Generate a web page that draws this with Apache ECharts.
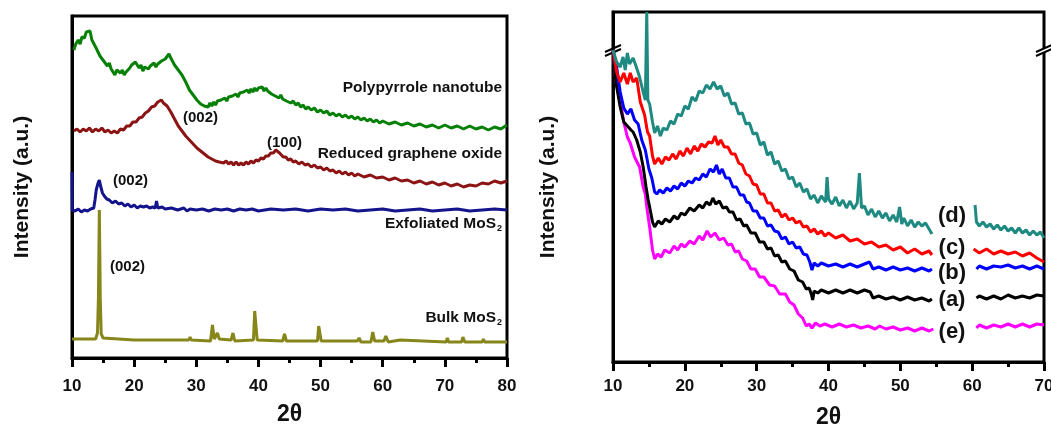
<!DOCTYPE html>
<html>
<head>
<meta charset="utf-8">
<script src="https://cdn.jsdelivr.net/npm/echarts@6/dist/echarts.min.js"></script>
<style>
  html, body { margin: 0; background: #fff; }
  #chart { width: 1051px; height: 426px; }
</style>
</head>
<body>
<div id="chart"></div>
<script>
// left panel: [2theta, intensity a.u.]
const ppyNanotube = [[10.3,308],[10.6,314],[11,318],[11.3,314],[11.6,321],[12,320],[12.3,326],[12.6,324],[12.9,327],[13.2,318],[13.5,316],[13.8,311],[14.1,313],[14.5,302],[14.8,304],[15.1,297],[15.4,299],[15.7,292],[16,295],[16.3,289],[16.6,291],[16.9,283],[17.2,288],[17.5,290],[17.8,285],[18.1,288],[18.4,283],[18.7,286],[19,284],[19.3,290],[19.6,293],[19.9,291],[20.2,296],[20.5,294],[20.8,290],[21.1,293],[21.4,287],[21.7,291],[22,293],[22.3,289],[22.6,292],[22.9,290],[23.2,295],[23.5,291],[23.8,294],[24.1,292],[24.4,297],[24.7,295],[25,299],[25.3,298],[25.6,304],[25.9,300],[26.2,298],[26.5,293],[26.8,294],[27.1,288],[27.4,289],[27.7,283],[28,281],[28.3,276],[28.6,274],[28.9,268],[29.2,267],[29.5,263],[29.8,262],[30.1,258],[30.4,259],[30.7,254],[31,256],[31.3,252],[31.6,254],[31.9,251],[32.2,255],[32.5,252],[32.8,256],[33.1,253],[33.4,257],[33.7,255],[34,258],[34.3,256],[34.6,260],[34.9,257],[35.2,261],[35.5,259],[35.8,262],[36.1,260],[36.4,264],[36.7,261],[37,265],[37.3,263],[37.6,266],[37.9,264],[38.2,268],[38.5,265],[38.8,269],[39.1,266],[39.4,270],[39.7,267],[40,270],[40.3,268],[40.6,271],[40.9,267],[41.2,270],[41.5,267],[41.8,268],[42.1,264],[42.4,266],[42.7,262],[43,264],[43.3,260],[43.6,263],[43.9,259],[44.2,261],[44.5,257],[44.8,259],[45.2,255],[45.6,257],[46,253],[46.4,255],[46.8,251],[47.2,253],[47.6,249],[48,251],[48.5,248],[49,250],[49.5,246],[50,248],[50.5,245],[51,247],[51.5,243],[52,245],[52.5,242],[53,244],[53.5,241],[54,243],[54.5,240],[55,242],[55.5,239],[56,241],[56.5,238],[57,240],[57.5,237],[58,239],[58.5,236],[59,238],[59.5,235],[60,237],[61,234],[62,236],[63,233],[64,235],[65,232],[66,234],[67,231],[68,233],[69,230],[70,233],[71,230],[72,232],[73,229],[74,232],[75,229],[76,231],[77,228],[78,231],[79,229],[80,233]];

const reducedGO = [[10.3,227],[10.8,229],[11.3,226],[11.8,229],[12.3,227],[12.8,230],[13.3,226],[13.8,229],[14.3,227],[14.8,230],[15.3,226],[15.8,228],[16.3,225],[16.8,227],[17.3,225],[17.8,229],[18.3,228],[18.8,232],[19.3,232],[19.8,236],[20.3,236],[20.8,240],[21.3,241],[21.8,245],[22.3,247],[22.8,251],[23.3,252],[23.8,256],[24.1,255],[24.4,258],[24.7,255],[25,256],[25.3,252],[25.6,251],[25.9,246],[26.2,244],[26.5,239],[26.8,237],[27.1,232],[27.4,231],[27.7,227],[28,226],[28.3,222],[28.6,222],[28.9,218],[29.2,218],[29.5,214],[29.8,214],[30.1,210],[30.4,211],[30.7,207],[31,208],[31.3,204],[31.6,205],[31.9,201],[32.2,202],[32.5,199],[32.8,200],[33.1,197],[33.4,199],[33.7,196],[34,198],[34.4,195],[34.8,197],[35.2,194],[35.6,196],[36,193],[36.4,196],[36.8,193],[37.2,195],[37.6,193],[38,196],[38.4,194],[38.8,197],[39.2,195],[39.6,198],[40,197],[40.4,200],[40.8,199],[41.2,202],[41.6,202],[42,205],[42.4,205],[42.8,208],[43.1,207],[43.4,205],[43.7,204],[44,201],[44.4,201],[44.8,198],[45.2,199],[45.6,196],[46,197],[46.5,194],[47,196],[47.5,193],[48,194],[48.5,191],[49,193],[49.5,190],[50,191],[50.5,188],[51,190],[51.5,187],[52,188],[52.5,185],[53,187],[53.5,184],[54,186],[54.5,183],[55,185],[55.5,182],[56,184],[57,181],[58,183],[59,180],[60,181],[61,178],[62,180],[63,177],[64,178],[65,175],[66,177],[67,174],[68,176],[69,173],[70,175],[71,172],[72,174],[73,171],[74,173],[75,172],[76,175],[77,174],[78,177],[79,175],[80,177]];

const exfoliatedMoS2 = [[10,186],[10.05,148],[10.5,147],[11,149],[11.5,146],[12,148],[12.5,147],[13,149],[13.5,150],[13.7,158],[13.9,168],[14.2,175],[14.4,178],[14.6,172],[14.9,165],[15.2,162],[15.6,159],[16,158],[16.5,155],[17,157],[17.5,154],[18,155],[18.5,152],[19,154],[19.5,151],[20,153],[20.5,150],[21,152],[21.5,151],[22,152],[22.5,150],[23,151],[23.4,150],[23.6,157],[23.8,150],[24.5,151],[25,149],[26,150],[27,148],[28,150],[28.5,147],[29,149],[30,148],[31,149],[32,147],[33,149],[34,148],[35,149],[36,147],[37,149],[38,148],[39,149],[40,147],[42,149],[44,148],[46,149],[48,147],[50,149],[52,148],[54,149],[56,147],[58,148],[60,149],[62,147],[64,148],[66,149],[68,147],[70,148],[72,149],[74,147],[76,148],[78,149],[80,148]];

const bulkMoS2 = [[10,19],[13.8,19],[14.1,25],[14.25,60],[14.4,148],[14.55,60],[14.7,24],[15,20],[20,18],[25,18],[28.8,18],[29,21],[29.2,18],[32.3,17],[32.6,33],[32.9,19],[33.4,25],[33.7,19],[35.6,18],[35.9,25],[36.2,17],[39.2,18],[39.4,47],[39.6,48],[39.8,18],[43.9,17],[44.2,24],[44.5,17],[49.5,17],[49.7,32],[49.9,30],[50.1,17],[55.9,17],[56.2,20],[56.5,16],[58.1,16],[58.4,26],[58.7,17],[60.2,17],[60.5,22],[60.9,16],[62.8,18],[63,16],[70.2,16],[70.4,20],[70.6,16],[72.7,16],[72.9,21],[73.2,16],[76,16],[76.2,19],[76.4,16],[80,16]];

// right panel: [2theta, intensity a.u.], gap between 54.5 and 60.5
const sampleD = [[10,312],[10.5,300],[11,295],[11.4,305],[11.7,292],[12,309],[12.3,298],[12.8,304],[13.2,296],[13.7,285],[14.2,270],[14.5,262],[14.7,350],[14.85,262],[15.1,258],[15.5,240],[15.8,229],[16.2,236],[16.6,226],[17,234],[17.5,232],[18,241],[18.5,238],[19,248],[19.5,246],[20,256],[20.5,253],[21,265],[21.5,261],[22,271],[22.5,269],[23,277],[23.5,273],[24,280],[24.5,273],[25,276],[25.5,266],[26,269],[26.5,258],[27,259],[27.5,248],[28,249],[28.5,238],[29,239],[29.5,228],[30,229],[30.5,217],[31,220],[31.5,207],[32,210],[32.5,198],[33,201],[33.5,191],[34,193],[34.5,183],[35,185],[35.5,175],[36,179],[36.5,170],[37,173],[37.5,163],[38,167],[38.5,159],[39,166],[39.6,160],[39.8,185],[40,163],[40.5,158],[41,165],[41.5,156],[42,162],[42.5,154],[43,161],[43.5,153],[44,159],[44.3,189],[44.6,154],[45,156],[45.5,147],[46,153],[46.5,145],[47,151],[47.5,144],[48,149],[48.5,141],[49,147],[49.5,140],[49.9,155],[50.2,138],[50.5,144],[51,136],[51.5,142],[52,135],[52.5,140],[53,136],[53.5,139],[54,133],[54.4,128],[57,'-'],[60.4,157],[60.6,140],[61,136],[61.5,140],[62,135],[62.5,138],[63,133],[63.5,137],[64,132],[64.5,136],[65,131],[65.5,134],[66,129],[66.5,134],[67,129],[67.5,132],[68,127],[68.5,131],[69,127],[69.5,130],[70,124]];

const sampleC = [[10,312],[10.5,290],[11,280],[11.5,289],[12,278],[12.4,289],[12.8,280],[13.3,284],[13.8,260],[14.4,247],[14.8,230],[15.1,226],[15.5,206],[15.8,198],[16.3,204],[16.8,198],[17.3,205],[17.8,202],[18.3,208],[18.8,203],[19.3,211],[19.8,206],[20.3,214],[20.8,208],[21.3,216],[21.8,211],[22.3,218],[22.8,215],[23.3,220],[23.8,219],[24.2,226],[24.6,217],[25,222],[25.5,215],[26,215],[26.5,208],[27,208],[27.5,199],[28,197],[28.5,188],[29,186],[29.5,178],[30,177],[30.5,168],[31,168],[31.5,159],[32,159],[32.5,151],[33,152],[33.5,145],[34,148],[34.5,142],[35,144],[35.5,139],[36,141],[36.5,135],[37,136],[37.5,130],[38,133],[38.5,128],[39,131],[39.5,126],[40,129],[41,124],[42,127],[43,121],[44,123],[45,118],[46,120],[47,115],[48,117],[49,112],[50,115],[51,109],[52,113],[53,108],[54,111],[54.4,107],[57,'-'],[60.2,113],[61,109],[62,113],[63,108],[64,111],[65,108],[66,110],[67,106],[68,109],[69,104],[70,100]];

const sampleB = [[10,312],[10.5,295],[11,270],[11.5,254],[12,248],[12.5,253],[13,242],[13.5,238],[14,222],[14.5,212],[15,193],[15.4,184],[15.8,170],[16.1,168],[16.5,172],[17,169],[17.5,174],[18,171],[18.5,176],[19,173],[19.5,179],[20,176],[20.5,181],[21,179],[21.5,184],[22,182],[22.5,188],[23,185],[23.5,193],[24,190],[24.4,197],[24.8,188],[25.2,193],[25.7,184],[26.2,184],[26.7,175],[27.2,175],[27.7,167],[28.2,167],[28.6,160],[29,159],[29.5,151],[30,151],[30.5,144],[31,144],[31.5,136],[32,137],[32.5,131],[33,130],[33.5,123],[34,125],[34.5,118],[35,120],[35.5,114],[36,115],[36.5,108],[37,107],[37.4,100],[37.7,92],[38,99],[38.5,96],[39,99],[40,96],[41,98],[42,95],[43,98],[44,95],[45,98],[45.7,100],[46.2,93],[47,95],[48,92],[49,95],[50,92],[51,94],[52,91],[53,94],[54,91],[54.4,93],[57,'-'],[60.6,93],[61,96],[62,93],[63,96],[64,95],[65,97],[66,94],[67,96],[68,93],[69,96],[70,93]];

const sampleA = [[10,312],[10.4,280],[11,255],[11.5,240],[12,236],[12.5,232],[12.8,230],[13.3,222],[13.8,210],[14.2,195],[14.6,175],[14.9,162],[15.1,155],[15.5,140],[15.8,135],[16.3,141],[16.8,138],[17.3,143],[17.9,140],[18.5,146],[19,143],[19.5,149],[20,147],[20.7,154],[21.3,151],[22,157],[22.5,154],[23,160],[23.5,157],[23.9,164],[24.3,158],[24.8,161],[25.3,154],[25.8,155],[26.2,150],[26.7,150],[27.2,142],[27.7,143],[28.2,136],[28.6,137],[29.2,129],[29.8,129],[30.4,120],[31,120],[31.5,113],[32,114],[32.5,106],[33,107],[33.5,100],[34,101],[34.6,93],[35.2,91],[35.8,82],[36.4,80],[36.9,73],[37.3,74],[37.6,68],[37.8,62],[38,71],[38.5,69],[39,72],[40,69],[41,72],[42,69],[43,72],[44,69],[45,72],[45.8,70],[46.2,64],[47,66],[48,63],[49,65],[50,62],[51,65],[52,62],[53,64],[54,61],[54.4,63],[57,'-'],[60.6,64],[61,66],[62,63],[63,66],[64,63],[65,67],[66,64],[67,66],[68,64],[69,67],[70,66]];

const sampleE = [[10,312],[10.4,280],[11,262],[11.5,240],[12,225],[12.4,219],[13,205],[13.7,195],[14.2,175],[14.5,168],[14.7,155],[15.1,135],[15.5,112],[15.8,103],[16.2,108],[16.7,105],[17.2,112],[17.9,109],[18.5,116],[19,112],[19.5,118],[20,115],[20.7,121],[21.3,118],[22,126],[22.5,122],[23.1,131],[23.6,125],[24.2,129],[24.8,122],[25.4,124],[26,117],[26.5,118],[27,110],[27.5,111],[28,103],[28.6,101],[29.2,93],[29.8,93],[30.4,85],[31,85],[31.8,77],[32.5,76],[33.2,68],[34,68],[34.6,60],[35.2,57],[35.8,48],[36.4,44],[36.9,36],[37.3,38],[37.7,34],[38.2,39],[38.8,36],[39.5,38],[40.5,35],[41.5,38],[42.5,35],[43.5,37],[44.5,34],[45.5,36],[46.5,33],[47.1,36],[48,33],[49,35],[50,32],[51,34],[52,31],[53,34],[54,31],[54.6,33],[57,'-'],[60.6,34],[61,37],[62,34],[63,37],[64,35],[65,38],[66,35],[67,38],[68,35],[69,38],[70,37]];

const leftTicks = { min: 10, max: 80, interval: 10 };
const rightTicks = { min: 10, max: 70, interval: 10 };

const FONT = '"Liberation Sans", Arial, sans-serif';

function xAxisFor(gridIndex, ticks, labelMargin, nameGap) {
  return {
    type: 'value',
    gridIndex: gridIndex,
    min: ticks.min,
    max: ticks.max,
    interval: ticks.interval,
    name: '2θ',
    nameLocation: 'middle',
    nameGap: nameGap,
    nameTextStyle: { fontFamily: FONT, fontWeight: 'bold', fontSize: 23, color: '#111' },
    axisLine: { show: true, lineStyle: { color: '#000', width: 3 } },
    axisTick: { show: true, length: 9, lineStyle: { color: '#000', width: 3 } },
    minorTick: { show: true, splitNumber: 2, length: 5, lineStyle: { color: '#000', width: 3 } },
    splitLine: { show: false },
    axisLabel: { margin: labelMargin, fontFamily: FONT, fontWeight: 'bold', fontSize: 17, color: '#111' },
  };
}

function yAxisFor(gridIndex, max, nameGap) {
  return {
    type: 'value',
    gridIndex: gridIndex,
    min: 0,
    max: max,
    name: 'Intensity (a.u.)',
    nameLocation: 'middle',
    nameGap: nameGap,
    nameTextStyle: { fontFamily: FONT, fontWeight: 'bold', fontSize: 21, color: '#111' },
    axisLine: { show: true, lineStyle: { color: '#000', width: 3 } },
    axisTick: { show: false },
    axisLabel: { show: false },
    splitLine: { show: false },
  };
}

function line(name, data, color, xi) {
  return {
    name: name,
    type: 'line',
    xAxisIndex: xi,
    yAxisIndex: xi,
    data: data,
    showSymbol: false,
    symbol: 'none',
    connectNulls: false,
    lineStyle: { color: color, width: 3 },
  };
}

function label(text, x, y, size, align) {
  return {
    type: 'text',
    x: x,
    y: y,
    z: 100,
    style: {
      text: text,
      fill: '#111',
      font: 'bold ' + size + 'px ' + FONT,
      align: align || 'left',
      verticalAlign: 'middle',
      rich: {
        s: { fontSize: 9, fontWeight: 'bold', fontFamily: FONT, fill: '#111', padding: [9, 0, 0, 1] },
        n: { fontSize: size, fontWeight: 'bold', fontFamily: FONT, fill: '#111' },
      },
    },
  };
}

function breakMark(cx, cy) {
  return {
    type: 'group',
    z: 100,
    children: [
      { type: 'polygon', shape: { points: [[cx - 8, cy + 2], [cx + 8, cy - 5], [cx + 8, cy - 1], [cx - 8, cy + 6]] }, style: { fill: '#fff' } },
      { type: 'line', shape: { x1: cx - 8, y1: cy + 2, x2: cx + 8, y2: cy - 5 }, style: { stroke: '#000', lineWidth: 2 } },
      { type: 'line', shape: { x1: cx - 8, y1: cy + 6, x2: cx + 8, y2: cy - 1 }, style: { stroke: '#000', lineWidth: 2 } },
    ],
  };
}

const chart = echarts.init(document.getElementById('chart'));
chart.setOption({
  animation: false,
  backgroundColor: '#fff',
  grid: [
    { left: 72, top: 16, width: 435, height: 342, show: true, borderColor: '#000', borderWidth: 3, outerBoundsMode: 'none' },
    { left: 613, top: 12, width: 431, height: 350, show: true, borderColor: '#000', borderWidth: 3, outerBoundsMode: 'none' },
  ],
  xAxis: [xAxisFor(0, leftTicks, 20, 45), xAxisFor(1, rightTicks, 16, 44)],
  yAxis: [yAxisFor(0, 342, 39), yAxisFor(1, 350, 54)],
  series: [
    line('Bulk MoS2', bulkMoS2, '#86861a', 0),
    line('Exfoliated MoS2', exfoliatedMoS2, '#14148c', 0),
    line('Reduced graphene oxide', reducedGO, '#8c1414', 0),
    line('Polypyrrole nanotube', ppyNanotube, '#078007', 0),
    line('(e)', sampleE, '#ff00ff', 1),
    line('(a)', sampleA, '#000000', 1),
    line('(b)', sampleB, '#0000ff', 1),
    line('(c)', sampleC, '#ff0000', 1),
    line('(d)', sampleD, '#1e8a82', 1),
  ],
  graphic: [
    label('Polypyrrole nanotube', 502, 88, 15.5, 'right'),
    label('Reduced graphene oxide', 502, 154, 15.5, 'right'),
    label('{n|Exfoliated MoS}{s|2}', 502, 224, 15.5, 'right'),
    label('{n|Bulk MoS}{s|2}', 502, 318, 15.5, 'right'),
    label('(002)', 183, 118, 15),
    label('(100)', 267, 143, 15),
    label('(002)', 113, 181, 15),
    label('(002)', 110, 267, 15),
    label('(d)', 952, 216, 22, 'center'),
    label('(c)', 952, 248, 22, 'center'),
    label('(b)', 952, 273, 22, 'center'),
    label('(a)', 952, 300, 22, 'center'),
    label('(e)', 952, 332, 22, 'center'),
    breakMark(613, 50),
    breakMark(1044, 50),
  ],
});
</script>
</body>
</html>
